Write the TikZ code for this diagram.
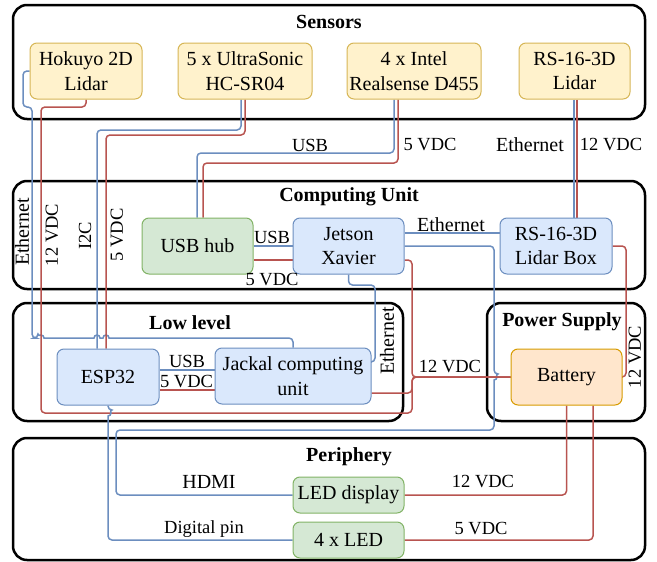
\documentclass[tikz,border=0pt]{standalone}
\usepackage{fontspec}
\setmainfont{Liberation Serif}
\definecolor{cblue}{HTML}{6C8EBF}
\definecolor{cred}{HTML}{B85450}
\definecolor{yfill}{HTML}{FFF2CC}
\definecolor{ydraw}{HTML}{D6B656}
\definecolor{bfill}{HTML}{DAE8FC}
\definecolor{gfill}{HTML}{D5E8D4}
\definecolor{gdraw}{HTML}{82B366}
\definecolor{ofill}{HTML}{FFE6CC}
\definecolor{odraw}{HTML}{D79B00}
\newcommand\boxfont{\fontsize{20}{24.5}\selectfont}
\newcommand\labfont{\fontsize{18.5}{22}\selectfont}
\newcommand\biglabfont{\fontsize{20}{24}\selectfont}
\newcommand\ttlfont{\fontsize{20}{24}\selectfont\bfseries}
\pgfdeclarelayer{contlayer}
\pgfdeclarelayer{wirelayer}
\pgfsetlayers{contlayer,wirelayer,main}
\begin{document}
\begin{tikzpicture}[x=1pt,y=-1pt,
  cont/.style={draw=black, line width=2.5pt, rounded corners=14pt, inner sep=0pt},
  box/.style={draw, line width=1pt, rounded corners=7pt, inner sep=0pt, align=center, font=\boxfont, minimum height=56pt},
  ybox/.style={box, fill=yfill, draw=ydraw},
  bbox/.style={box, fill=bfill, draw=cblue},
  gbox/.style={box, fill=gfill, draw=gdraw},
  obox/.style={box, fill=ofill, draw=odraw},
  bw/.style={draw=cblue, line width=1.5pt, rounded corners=4pt},
  rw/.style={draw=cred, line width=1.5pt, rounded corners=4pt},
  lab/.style={inner sep=0pt, font=\labfont},
  blab/.style={inner sep=0pt, font=\biglabfont},
  ttl/.style={inner sep=0pt, font=\ttlfont}]
\useasboundingbox (0,0) rectangle (657,562);

% containers
\begin{pgfonlayer}{contlayer}
\node[cont, minimum width=632pt, minimum height=114pt] (sensors) at (329,62) {};
\node[cont, minimum width=632pt, minimum height=108pt] (computing) at (329,235) {};
\node[cont, minimum width=390pt, minimum height=118pt] (lowlevel) at (208,362) {};
\node[cont, minimum width=158pt, minimum height=118pt] (power) at (566,362) {};
\node[cont, minimum width=632pt, minimum height=122pt] (periphery) at (329,499) {};
\end{pgfonlayer}

\node[ttl] (tsens) at (329,22) {Sensors};
\node[ttl] (tcomp) at (349,197) {Computing Unit};
\node[ttl] (tlow) at (190,323) {Low level};
\node[ttl] (tpow) at (562,322) {Power Supply};
\node[ttl] (tper) at (349,457) {Periphery};

% boxes
\node[ybox, minimum width=112pt] (hokuyo) at (86,71) {Hokuyo 2D\\Lidar};
\node[ybox, minimum width=134pt] (ultra) at (245,71) {5 x UltraSonic\\HC-SR04};
\node[ybox, minimum width=134pt] (intel) at (414,71) {4 x Intel\\Realsense D455};
\node[ybox, minimum width=111pt] (rslidar) at (574.5,71) {RS-16-3D\\Lidar};
\node[gbox, minimum width=111pt] (usbhub) at (197.5,246) {USB hub};
\node[bbox, minimum width=111pt] (jetson) at (348.5,246) {Jetson\\Xavier};
\node[bbox, minimum width=112pt] (box) at (556,246) {RS-16-3D\\Lidar Box};
\node[bbox, minimum width=102pt] (esp) at (108,377) {ESP32};
\node[bbox, minimum width=156pt] (jackal) at (293,376) {Jackal computing\\unit};
\node[obox, minimum width=111pt] (battery) at (566.5,377) {Battery};
\node[gbox, minimum width=111pt, minimum height=36pt] (leddisp) at (348.5,495) {LED display};
\node[gbox, minimum width=111pt, minimum height=36pt] (led) at (348.5,540) {4 x LED};

% wires
\begin{pgfonlayer}{wirelayer}
\draw[bw] (hokuyo.west) -- (23,71) -- (23,107) -- (32,107) -- (32,338) -- (38,338)
  [sharp corners] arc[start angle=180,end angle=0,radius=3pt] -- (94,338)
  arc[start angle=180,end angle=0,radius=3pt] -- (103,338)
  arc[start angle=180,end angle=0,radius=3pt] [rounded corners=4pt] -- (jackal.north |- 0,338) -- (jackal.north);
\draw[rw] (hokuyo.south) -- (86,107) -- (41,107) -- (41,413) -- (412,413) -- (412,377) -- (battery.west);
\draw[bw] ([xshift=-4pt]ultra.south) -- (241,130) -- (97,130) -- (97,0 |- esp.north);
\draw[rw] (ultra.south) -- (245,135) -- (106,135) -- (106,0 |- esp.north);
\draw[bw] ([xshift=-20pt]intel.south) -- (394,153) -- (197,153) -- (197,0 |- usbhub.north);
\draw[rw] ([xshift=-16pt]intel.south) -- (398,163) -- (203,163) -- (203,0 |- usbhub.north);
\draw[bw] (574,0 |- rslidar.south) -- (574,0 |- box.north);
\draw[rw] (577,0 |- rslidar.south) -- (577,0 |- box.north);
\draw[bw] (usbhub.east) -- (jetson.west);
\draw[rw] (usbhub.east |- 0,260) -- (jetson.west |- 0,260);
\draw[bw] (jetson.east |- 0,233) -- (box.west |- 0,233);
\draw[bw] (jetson.east) -- (494,246) -- (494,374) [sharp corners] arc[start angle=90,end angle=-90,radius=3pt]
  [rounded corners=4pt] -- (494,430) -- (116,430) -- (116,0 |- leddisp.west) -- (leddisp.west);
\draw[bw] (jetson.south) -- (348.5,285) -- (375,285) -- (375,362) -- (jackal.east |- 0,362);
\draw[rw] (jetson.east |- 0,260) -- (412,260) -- (412,377) -- (battery.west);
\draw[rw] (jackal.east |- 0,393) -- (412,393) -- (412,377) -- (battery.west);
\draw[bw] (esp.east |- 0,370) -- (jackal.west |- 0,370);
\draw[rw] (esp.east |- 0,390) -- (jackal.west |- 0,390);
\draw[bw] (esp.south) -- (108,410) [sharp corners] arc[start angle=90,end angle=-90,radius=3pt]
  [rounded corners=4pt] -- (108,0 |- led.west) -- (led.west);
\draw[rw] (box.east) -- (626,246) -- (626,377) -- (battery.east);
\draw[rw] (battery.south) -- (566.5,0 |- leddisp.east) -- (leddisp.east);
\draw[rw] (593,0 |- battery.south) -- (593,0 |- led.east) -- (led.east);
\end{pgfonlayer}

% labels
\node[lab] (l1) at (310,145) {USB};
\node[lab] (l2) at (430,145) {5 VDC};
\node[blab] (l3) at (530,145) {Ethernet};
\node[lab] (l4) at (611,145) {12 VDC};
\node[blab, rotate=90] (l5) at (22,232) {Ethernet};
\node[lab, rotate=90] (l6) at (52,235) {12 VDC};
\node[lab, rotate=90] (l7) at (85,236) {I2C};
\node[lab, rotate=90] (l8) at (117,235) {5 VDC};
\node[lab] (l9) at (272,237) {USB};
\node[lab] (l10) at (272,280) {5 VDC};
\node[blab] (l11) at (451,225) {Ethernet};
\node[blab, rotate=90] (l12) at (387,341) {Ethernet};
\node[lab] (l13) at (187,361) {USB};
\node[lab] (l14) at (186.5,382) {5 VDC};
\node[lab] (l15) at (450,367) {12 VDC};
\node[lab, rotate=90] (l16) at (635,357) {12 VDC};
\node[blab] (l17) at (209,482) {HDMI};
\node[lab] (l18) at (483,482) {12 VDC};
\node[lab] (l19) at (204,529) {Digital pin};
\node[lab] (l20) at (481,529) {5 VDC};
\end{tikzpicture}
\end{document}
